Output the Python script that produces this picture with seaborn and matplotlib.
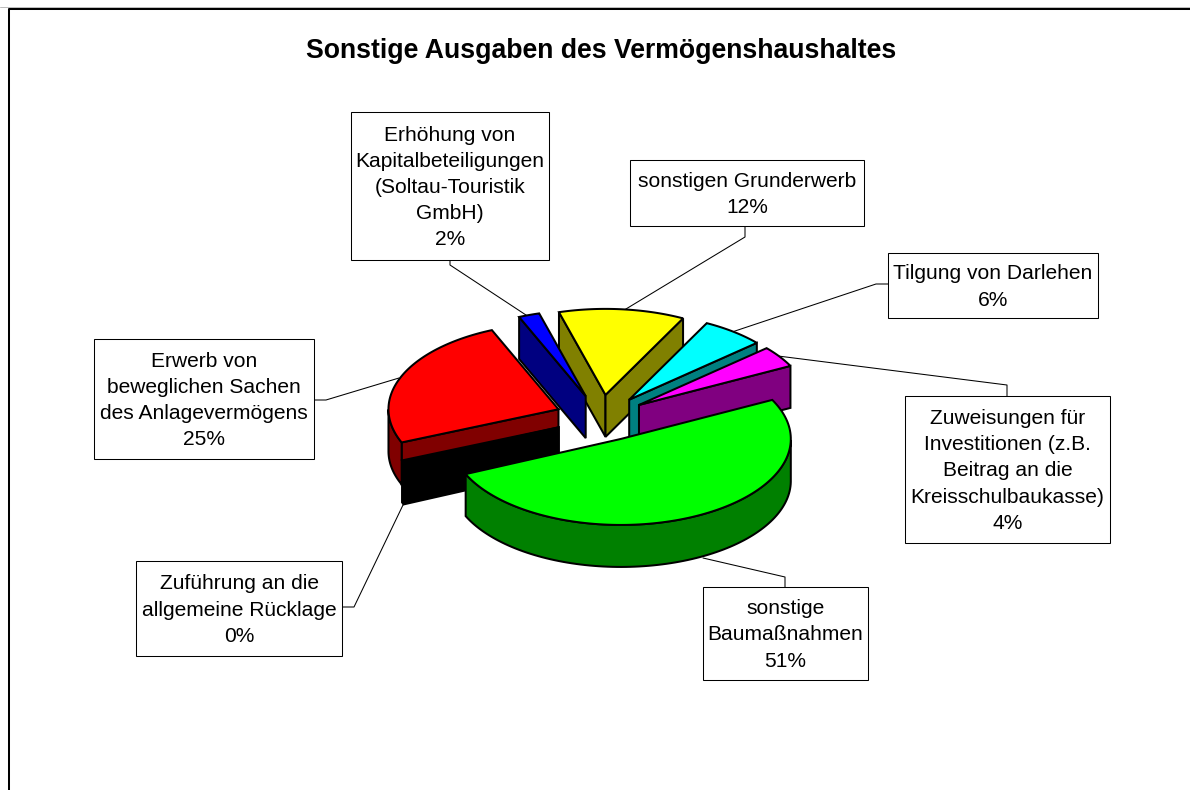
import numpy as np
import matplotlib
matplotlib.use("Agg")
import matplotlib.pyplot as plt
import seaborn as sns

# slice data, clockwise from the first edge of the green one
categories = [
    "sonstige\nBaumaßnahmen",
    "Zuführung an die\nallgemeine Rücklage",
    "Erwerb von\nbeweglichen Sachen\ndes Anlagevermögens",
    "Erhöhung von\nKapitalbeteiligungen\n(Soltau-Touristik\nGmbH)",
    "sonstigen Grunderwerb",
    "Tilgung von Darlehen",
    "Zuweisungen für\nInvestitionen (z.B.\nBeitrag an die\nKreisschulbaukasse)",
]
shares = [51, 0.4, 25, 2, 12, 6, 4]
top_colors = ["#00ff00", "#000000", "#ff0000", "#0000ff", "#ffff00", "#00ffff", "#ff00ff"]
side_colors = ["#008000", "#000000", "#800000", "#000080", "#808000", "#008080", "#800080"]

# pie geometry in pixels
cx, cy = 601, 418
rx, ry = 170, 86
depth = 42
explode = 0.27
start_angle = 63
draw_order = [4, 3, 5, 6, 2, 1, 0]

# label boxes: x0, y0, x1, y1 and the leader line
boxes = [
    (703, 587, 868, 680),
    (136, 561, 342, 656),
    (94, 339, 314, 459),
    (351, 112, 549, 260),
    (630, 160, 864, 226),
    (888, 253, 1098, 318),
    (905, 396, 1110, 543),
]
leaders = [
    [(785, 587), (785, 577), (703, 558)],
    [(342, 607), (354, 607), (403, 505)],
    [(314, 400), (326, 400), (399, 378)],
    [(450, 260), (450, 265), (529, 317)],
    [(745, 226), (745, 237), (621, 312)],
    [(888, 284), (876, 284), (732, 332)],
    [(1007, 396), (1007, 385), (778, 356)],
]

sns.set_theme(style="white")
plt.rcParams["font.family"] = ["Liberation Sans", "DejaVu Sans"]
lw = 1.45

fig = plt.figure(figsize=(11.9, 7.9), dpi=100)
ax = fig.add_axes([0, 0, 1, 1])
ax.set_xlim(0, 1190)
ax.set_ylim(790, 0)
ax.axis("off")

# chart frame runs off the image at the right and bottom
ax.plot([8.5, 8.5, 1190], [790, 8.5, 8.5], color="black", lw=lw, zorder=1)
ax.plot([0, 1190], [7, 7], color="#bbbbbb", lw=0.7, zorder=1)

ax.text(601, 51, "Sonstige Ausgaben des Vermögenshaushaltes", ha="center", va="center",
        fontsize=19.2, fontweight="bold", color="black")


def ell(ax_x, ax_y, theta):
    t = np.radians(theta)
    return ax_x + rx * np.sin(t), ax_y - ry * np.cos(t)


fractions = np.array(shares) / np.sum(shares)
edges = start_angle + 360 * np.concatenate([[0], np.cumsum(fractions)])

z = 2
for i in draw_order:
    a0, a1 = edges[i], edges[i + 1]
    mid = np.radians((a0 + a1) / 2)
    ox = cx + explode * rx * np.sin(mid)
    oy = cy - explode * ry * np.cos(mid)
    th = np.linspace(a0, a1, 120)
    ex, ey = ell(ox, oy, th)

    # cut faces, only those turned towards the viewer
    faces = []
    if np.sin(np.radians(a0)) < 0:
        faces.append(0)
    if np.sin(np.radians(a1)) > 0:
        faces.append(-1)
    for e in faces:
        ax.fill([ox, ex[e], ex[e], ox], [oy, ey[e], ey[e] + depth, oy + depth],
                facecolor=side_colors[i], edgecolor="black", lw=lw, joinstyle="miter", zorder=z)
    # outer wall, same thing
    keep = np.cos(np.radians(th)) <= 0
    if keep.sum() > 1:
        wx, wy = ex[keep], ey[keep]
        ax.fill(np.r_[wx, wx[::-1]], np.r_[wy, wy[::-1] + depth],
                facecolor=side_colors[i], edgecolor="black", lw=lw, joinstyle="miter", zorder=z)
    ax.fill(np.r_[ox, ex], np.r_[oy, ey], facecolor=top_colors[i], edgecolor="black",
            lw=lw, joinstyle="miter", zorder=z)
    z += 1

# labels are drawn with the rounded share below the name
for name, share, box, leader in zip(categories, shares, boxes, leaders):
    x0, y0, x1, y1 = box
    # leaders sit under the pie so they stop at its edge
    ax.plot(*zip(*leader), color="black", lw=0.75, zorder=1.5)
    ax.fill([x0, x1, x1, x0], [y0, y0, y1, y1], facecolor="white", edgecolor="black", lw=0.75, zorder=21)
    ax.text((x0 + x1) / 2, (y0 + y1) / 2 + 1.5, f"{name}\n{round(share)}%", ha="center", va="center",
            fontsize=15.1, color="black", linespacing=1.48, zorder=22)

fig.savefig("out.png", dpi=100)
